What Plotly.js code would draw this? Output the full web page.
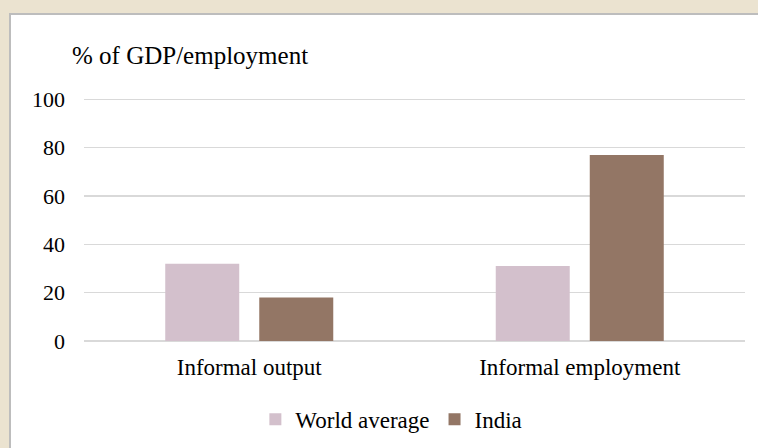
<!DOCTYPE html>
<html>
<head>
<meta charset="utf-8">
<script src="https://cdn.plot.ly/plotly-3.0.1.min.js"></script>
<style>
html,body{margin:0;padding:0;width:758px;height:448px;overflow:hidden;background:#ebe3d0;}
#panel{position:absolute;left:9px;top:13px;width:760px;height:450px;background:#ffffff;border-left:2px solid #bdbdbd;border-top:2px solid #bdbdbd;box-sizing:border-box;}
#chart{position:absolute;left:0;top:0;width:758px;height:448px;}
</style>
</head>
<body>
<div id="panel"></div>
<div id="chart"></div>
<script>
const categories = ["Informal output", "Informal employment"];
const worldAverage = [32, 31];
const india = [18, 77];
const seriesNames = ["World average", "India"];
const yTicks = [0, 20, 40, 60, 80, 100];
const yTitle = "% of GDP/employment";

const font = "'Liberation Serif', 'Times New Roman', serif";

const traces = [
  {type: "bar", name: seriesNames[0], x: categories, y: worldAverage,
   marker: {color: "#d3c0cc"}, hoverinfo: "none"},
  {type: "bar", name: seriesNames[1], x: categories, y: india,
   marker: {color: "#937665"}, hoverinfo: "none"}
];

const layout = {
  width: 758, height: 448,
  paper_bgcolor: "rgba(0,0,0,0)",
  plot_bgcolor: "rgba(0,0,0,0)",
  margin: {l: 84, r: 13, t: 96.6, b: 107, autoexpand: false},
  barmode: "group",
  bargap: 0.431,
  bargroupgap: 0.213,
  font: {family: font, color: "#000000"},
  xaxis: {
    showgrid: false, zeroline: false, showline: false, ticks: "",
    tickfont: {size: 23, family: font, color: "#000"},
    ticklabelstandoff: 10, fixedrange: true, automargin: false
  },
  yaxis: {
    range: [0, 101], tickvals: yTicks, ticktext: yTicks.map(String),
    showgrid: true, gridcolor: "#d9d9d9", gridwidth: 1.5,
    zeroline: true, zerolinecolor: "#d9d9d9", zerolinewidth: 1.5,
    showline: false, ticks: "",
    tickfont: {size: 22, family: font, color: "#000"},
    ticklabelstandoff: 18, fixedrange: true, automargin: false
  },
  showlegend: true,
  legend: {
    orientation: "h", x: 0.465, xanchor: "center",
    yref: "container", y: 0.112, yanchor: "top",
    font: {size: 23, family: font, color: "#000"},
    bgcolor: "rgba(0,0,0,0)", itemwidth: 30, traceorder: "normal"
  },
  annotations: [{
    text: yTitle, xref: "paper", yref: "paper",
    x: -0.021, xanchor: "left", y: 1.17, yanchor: "middle",
    showarrow: false, font: {size: 25, family: font, color: "#000"}
  }]
};

Plotly.newPlot("chart", traces, layout, {displayModeBar: false, staticPlot: true});
</script>
</body>
</html>
